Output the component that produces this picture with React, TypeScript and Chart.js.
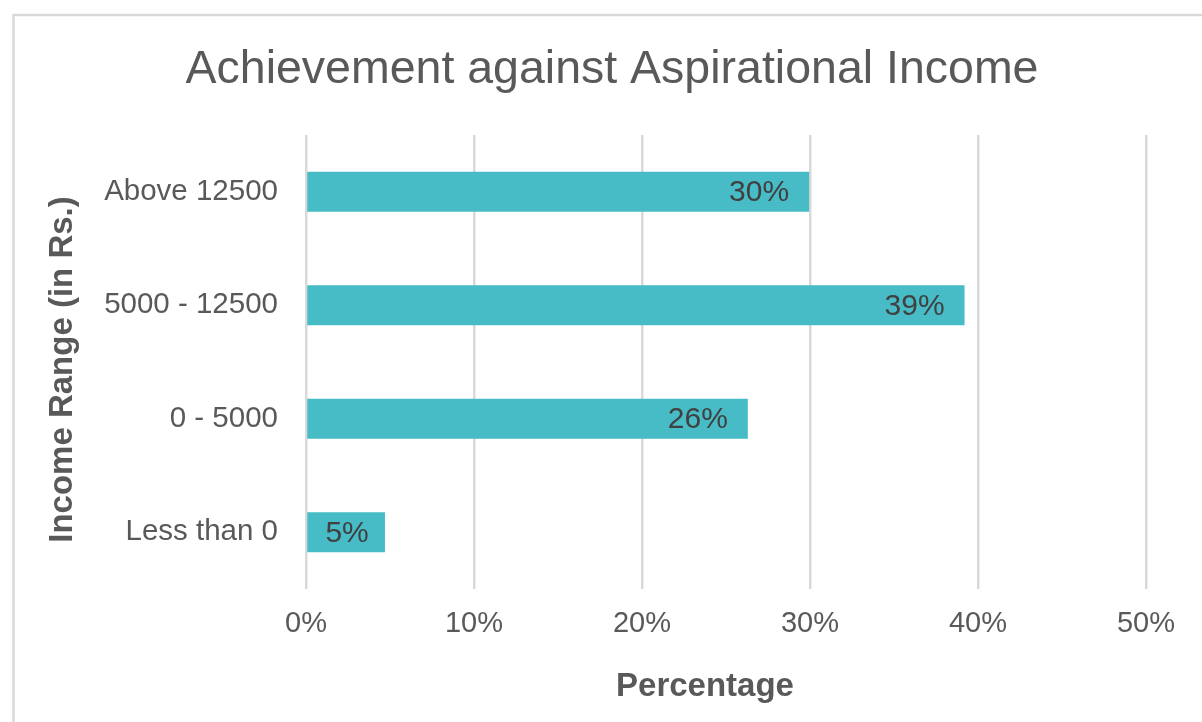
import React, { useEffect, useRef } from "react";
import { Chart, registerables } from "chart.js";

Chart.register(...registerables);

// ---- data ----
const categories = ["Above 12500", "5000 - 12500", "0 - 5000", "Less than 0"];
const percentages = [29.95, 39.2, 26.3, 4.7];
const xTickValues = [0, 10, 20, 30, 40, 50];
const chartTitle = "Achievement against Aspirational Income";
const xAxisTitle = "Percentage";
const yAxisTitle = "Income Range (in Rs.)";

const FONT = '"Liberation Sans", Arial, Helvetica, sans-serif';
const TEXT = "#595959";
const LABEL = "#404040";
const GRID = "#D9D9D9";
const BAR = "#47BCC6";

const decorPlugin = {
  id: "decor",
  beforeDraw(chart: any) {
    const ctx = chart.ctx;
    ctx.save();
    ctx.fillStyle = "#ffffff";
    ctx.fillRect(0, 0, chart.width, chart.height);
    ctx.strokeStyle = GRID;
    ctx.lineWidth = 2.5;
    ctx.strokeRect(13.5, 15, chart.width + 30, chart.height + 30);
    ctx.restore();
  },
  afterDraw(chart: any) {
    const ctx = chart.ctx;
    ctx.save();
    ctx.fillStyle = TEXT;
    ctx.textAlign = "center";
    ctx.textBaseline = "alphabetic";
    ctx.font = `46.5px ${FONT}`;
    ctx.fillText(chartTitle, 612, 83);
    ctx.font = `bold 33px ${FONT}`;
    ctx.fillText(xAxisTitle, 705, 696);
    ctx.translate(72, 369.5);
    ctx.rotate(-Math.PI / 2);
    ctx.fillText(yAxisTitle, 0, 0);
    ctx.restore();

    const meta = chart.getDatasetMeta(0);
    ctx.save();
    ctx.font = `30px ${FONT}`;
    ctx.fillStyle = LABEL;
    ctx.textBaseline = "middle";
    meta.data.forEach((bar: any, i: number) => {
      const { x, y, base } = bar.getProps(["x", "y", "base"], true);
      const text = Math.round(percentages[i]) + "%";
      const w = ctx.measureText(text).width;
      const right = x - 20;
      if (right - w < base + 20) {
        ctx.textAlign = "center";
        ctx.fillText(text, (x + base) / 2 + 1, y + 1);
      } else {
        ctx.textAlign = "right";
        ctx.fillText(text, right, y + 1);
      }
    });
    ctx.restore();
  },
};

export default function App() {
  const canvasRef = useRef<HTMLCanvasElement | null>(null);

  useEffect(() => {
    if (!canvasRef.current) return;
    const chart = new Chart(canvasRef.current, {
      type: "bar",
      data: {
        labels: categories,
        datasets: [
          {
            label: "Percentage",
            data: percentages,
            backgroundColor: BAR,
            borderWidth: 0,
            barPercentage: 0.352,
            categoryPercentage: 1,
          },
        ],
      },
      options: {
        indexAxis: "y",
        responsive: false,
        animation: false,
        devicePixelRatio: 1,
        layout: { padding: { top: 135, right: 56, bottom: 0, left: 0 } },
        plugins: {
          legend: { display: false },
          title: { display: false },
          tooltip: { enabled: false },
        },
        scales: {
          x: {
            type: "linear",
            min: 0,
            max: 50,
            afterBuildTicks: (s: any) => {
              s.ticks = xTickValues.map((v) => ({ value: v }));
            },
            ticks: {
              callback: (v: any) => v + "%",
              color: TEXT,
              font: { family: FONT, size: 29 },
              padding: 18,
              maxRotation: 0,
            },
            grid: { color: GRID, lineWidth: 2.5, drawTicks: false },
            border: { display: false },
            afterFit: (s: any) => {
              s.height = 133;
            },
          },
          y: {
            ticks: {
              color: TEXT,
              font: { family: FONT, size: 29.5 },
              padding: 28,
            },
            grid: { display: false, drawTicks: false },
            border: { display: false },
            afterFit: (s: any) => {
              s.width = 306;
            },
          },
        },
      },
      plugins: [decorPlugin],
    });
    return () => chart.destroy();
  }, []);

  return (
    <div style={{ position: "fixed", left: 0, top: 0, width: 1202, height: 722, background: "#fff" }}>
      <canvas ref={canvasRef} width={1202} height={722} style={{ display: "block" }} />
    </div>
  );
}
